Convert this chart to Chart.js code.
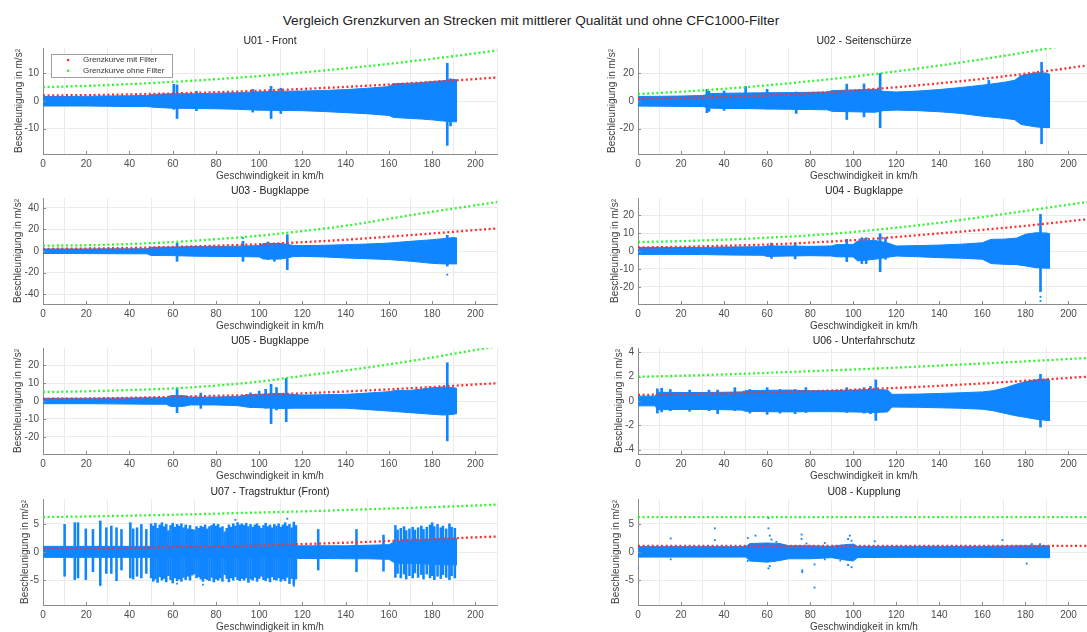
<!DOCTYPE html>
<html>
<head>
<meta charset="utf-8">
<script src="https://cdn.jsdelivr.net/npm/chart.js@4.4.1/dist/chart.umd.min.js"></script>
<style>
  html, body { margin:0; padding:0; background:#fff; width:1087px; height:632px; overflow:hidden; position:relative;
    font-family:"Liberation Sans", Arial, Helvetica, sans-serif; }
  #figTitle { position:absolute; left:0; width:1062px; top:13px; line-height:15px; text-align:center;
    font-size:13.6px; color:#222; white-space:nowrap; }
  .panel { position:absolute; }
  .panel canvas { display:block; }
</style>
</head>
<body>
<div id="figTitle">Vergleich Grenzkurven an Strecken mit mittlerer Qualität und ohne CFC1000-Filter</div>
<script>
// ---- limit curves (km/h -> m/s²) ----
const curveX = [0, 20, 40, 60, 80, 100, 120, 140, 160, 180, 200, 210];

const u01Red   = [2.0, 2.14, 2.38, 2.72, 3.16, 3.70, 4.34, 5.09, 5.93, 6.88, 7.92, 8.48];
const u01Green = [5.0, 5.46, 6.09, 6.89, 7.86, 8.99, 10.29, 11.76, 13.39, 15.19, 17.16, 18.21];
const u02Red   = [2.0, 2.25, 2.94, 4.06, 5.6, 7.57, 9.97, 12.8, 16.06, 19.75, 23.86, 26.08];
const u02Green = [5.0, 6.72, 8.84, 11.39, 14.35, 17.71, 21.49, 25.67, 30.28, 35.3, 40.7, 43.6];
const u03Red   = [2.0, 2.3, 2.9, 3.8, 4.9, 6.3, 8.2, 10.5, 13.3, 16.3, 19.5, 21.0];
const u03Green = [5.0, 5.4, 6.5, 8.3, 11.0, 14.2, 18.5, 23.5, 30.0, 36.5, 42.5, 45.6];
const u04Red   = [2.0, 2.3, 2.9, 3.6, 4.7, 6.0, 7.8, 9.8, 11.8, 14.0, 16.6, 17.8];
const u04Green = [5.0, 5.5, 6.3, 7.4, 8.7, 10.6, 13.0, 15.7, 18.9, 22.3, 25.8, 27.4];
const u05Red   = [1.2, 1.4, 1.8, 2.3, 2.9, 3.4, 4.3, 5.3, 6.5, 7.8, 9.2, 9.9];
const u05Green = [5.0, 5.4, 6.1, 7.0, 8.6, 10.8, 14.0, 17.0, 20.4, 24.2, 28.4, 30.4];
const u06Red   = [0.5, 0.55, 0.62, 0.7, 0.8, 0.93, 1.08, 1.25, 1.45, 1.67, 1.9, 2.02];
const u06Green = [2.0, 2.08, 2.19, 2.32, 2.46, 2.6, 2.75, 2.92, 3.09, 3.27, 3.46, 3.55];
const u07Red   = [0.55, 0.6, 0.7, 0.85, 1.0, 1.15, 1.4, 1.65, 1.95, 2.25, 2.6, 2.75];
const u07Green = [6.2, 6.3, 6.45, 6.6, 6.8, 7.0, 7.2, 7.45, 7.7, 7.95, 8.25, 8.4];
const u08Red   = [1.1, 1.1, 1.1, 1.1, 1.1, 1.1, 1.1, 1.1, 1.1, 1.1, 1.1, 1.1];
const u08Green = [6.2, 6.2, 6.2, 6.2, 6.2, 6.2, 6.2, 6.2, 6.2, 6.2, 6.2, 6.2];

// ---- measured acceleration: envelope of the dense band ----
const u01BandX  = [0, 10, 20, 30, 40, 48, 52, 60, 70, 80, 90, 100, 110, 120, 130, 140, 150, 160, 162, 170, 175, 180, 185, 190, 191.5];
const u01BandHi = [1.6, 1.6, 1.7, 1.8, 1.9, 2.0, 2.4, 2.6, 2.6, 2.8, 3.0, 3.3, 3.5, 3.6, 3.8, 4.1, 4.6, 5.2, 6.2, 6.4, 6.6, 7.0, 7.3, 7.8, 7.6];
const u01BandLo = [-1.8, -1.8, -1.8, -1.9, -2.0, -2.0, -2.3, -2.6, -2.7, -2.8, -3.0, -3.3, -3.4, -3.5, -3.8, -4.2, -4.6, -5.2, -5.9, -6.3, -6.5, -6.8, -7.2, -7.5, -7.5];

const u02BandX  = [0, 10, 20, 30, 34, 40, 50, 60, 70, 80, 88, 90, 100, 110, 114, 120, 130, 140, 150, 160, 170, 175, 178, 185, 190, 191.5];
const u02BandHi = [3.3, 3.4, 3.6, 4.0, 5.4, 5.6, 5.8, 6.0, 6.1, 6.3, 6.5, 7.5, 8.0, 8.5, 7.0, 6.5, 7.2, 8.3, 9.8, 11.5, 13.5, 15.0, 18.5, 20.5, 20.2, 19];
const u02BandLo = [-3.7, -3.8, -3.9, -4.0, -5.2, -5.4, -5.5, -5.8, -6.0, -6.2, -6.4, -7.5, -7.8, -8.2, -7.0, -6.6, -7.0, -7.8, -9.0, -11, -12.5, -13.5, -17, -18.8, -19.3, -19];

const u03BandX  = [0, 10, 20, 30, 40, 48, 50, 60, 70, 80, 90, 100, 102, 110, 116, 120, 130, 140, 150, 160, 170, 180, 185, 190, 191.5];
const u03BandHi = [1.9, 1.9, 1.9, 2.0, 2.1, 2.1, 3.4, 3.7, 4.2, 4.3, 4.5, 5.0, 7.0, 7.0, 5.2, 5.0, 5.3, 5.9, 6.5, 7.4, 9.0, 10.5, 11.5, 12.5, 12];
const u03BandLo = [-2.3, -2.3, -2.4, -2.5, -2.6, -2.6, -4.2, -4.3, -4.8, -5.0, -5.2, -5.5, -7.5, -7.5, -5.2, -5.0, -5.5, -6.5, -7.2, -8.0, -9.5, -11.5, -12, -12, -12];

const u04BandX  = [0, 10, 20, 30, 40, 50, 58, 60, 70, 80, 90, 92, 100, 102, 110, 116, 120, 130, 140, 150, 160, 164, 170, 176, 180, 185, 190, 191.5];
const u04BandHi = [1.9, 1.9, 1.9, 2.0, 2.2, 2.3, 2.4, 2.8, 2.8, 2.6, 2.8, 3.5, 3.7, 5.5, 5.9, 4.5, 2.8, 3.0, 3.3, 3.8, 4.6, 6.5, 6.6, 7.2, 9.3, 10.2, 10, 9.5];
const u04BandLo = [-1.9, -1.9, -1.9, -2.0, -2.2, -2.3, -2.4, -3.0, -2.8, -2.6, -2.8, -3.2, -3.3, -5.5, -4.6, -3.5, -2.8, -3.2, -3.7, -4.0, -4.6, -7.0, -7.4, -7.6, -8.3, -9.3, -9.6, -9.5];

const u05BandX  = [0, 10, 20, 30, 40, 50, 57, 59, 65, 68, 80, 90, 95, 100, 110, 116, 120, 130, 140, 150, 160, 163, 170, 180, 185, 190, 191.5];
const u05BandHi = [1.5, 1.5, 1.5, 1.6, 1.7, 1.8, 1.8, 3.0, 3.0, 2.2, 2.2, 2.5, 3.5, 3.7, 4.2, 3.6, 3.3, 3.5, 3.7, 4.4, 5.2, 5.9, 5.9, 7.4, 7.8, 7.4, 7.0];
const u05BandLo = [-1.5, -1.5, -1.5, -1.6, -1.7, -1.8, -1.8, -3.0, -3.0, -2.2, -2.2, -2.6, -3.5, -3.7, -4.2, -4.0, -4.0, -4.0, -4.0, -4.8, -5.6, -5.9, -6.5, -7.4, -7.8, -7.4, -7.0];

const u06BandX  = [0, 8, 9, 20, 30, 40, 48, 50, 60, 70, 80, 90, 100, 110, 116, 118, 130, 140, 150, 160, 165, 170, 175, 180, 185, 190, 191.5];
const u06BandHi = [0.40, 0.40, 0.72, 0.70, 0.70, 0.72, 0.75, 0.85, 0.88, 0.9, 0.85, 0.85, 0.9, 0.95, 0.9, 0.55, 0.57, 0.62, 0.68, 0.75, 0.85, 1.05, 1.35, 1.6, 1.75, 1.8, 1.7];
const u06BandLo = [-0.40, -0.40, -0.72, -0.70, -0.70, -0.72, -0.75, -0.85, -0.88, -0.9, -0.88, -0.88, -0.9, -0.95, -0.9, -0.5, -0.52, -0.56, -0.6, -0.68, -0.8, -1.0, -1.2, -1.35, -1.5, -1.6, -1.6];

const u07BandX  = [0, 10, 20, 40, 60, 80, 100, 117, 118, 130, 140, 150, 160, 163, 170, 180, 190, 191.5];
const u07BandHi = [1.0, 1.0, 1.0, 1.0, 1.0, 1.0, 1.0, 1.0, 1.1, 1.1, 1.1, 1.2, 1.3, 1.9, 2.0, 2.3, 2.4, 2.3];
const u07BandLo = [-0.95, -0.95, -0.95, -0.95, -0.95, -0.95, -0.95, -0.95, -1.15, -1.15, -1.2, -1.2, -1.3, -2.0, -2.0, -2.2, -2.3, -2.3];

const u08BandX  = [0, 10, 30, 50, 52, 60, 66, 70, 80, 90, 96, 100, 102, 120, 140, 160, 180, 190, 191.5];
const u08BandHi = [0.95, 0.95, 0.95, 0.95, 1.5, 1.6, 1.5, 1.1, 1.1, 1.0, 1.3, 1.4, 1.0, 1.0, 1.0, 1.0, 1.1, 1.1, 1.0];
const u08BandLo = [-0.9, -0.9, -0.9, -0.9, -1.6, -1.8, -1.5, -1.2, -1.2, -1.0, -1.4, -1.6, -1.0, -0.95, -0.95, -0.95, -1.0, -1.0, -1.0];

// ---- individual peaks: [speed, min, max] ----
const u01Spikes = [[60.5, -3, 6], [62, -6.3, 5.8], [71, -3.5, 3.5], [97, -4, 4.2], [105.5, -6.3, 5.3], [110, -4.5, 4.6], [187, -16, 13.6], [188.5, -9, 8]];
const u02Spikes = [[32, -8.5, 8.5], [33, -7.5, 7.0], [40, -6.8, 7.3], [50, -5.5, 10.5], [60, -5.8, 8.5], [73.5, -9, 6.5], [97, -13.4, 12.2], [105, -11.5, 12.4], [112.5, -19.3, 20], [163, -11, 14.9], [187.5, -31, 28]];
const u03Spikes = [[62, -9.6, 7.4], [92.5, -9.6, 9], [104, -8, 8.4], [107, -9.6, 7], [113, -17.4, 15.2], [187, -14, 14.6]];
const u04Spikes = [[62, -4.1, 4.4], [73, -4.4, 4.4], [97, -5.9, 6.5], [104, -7, 7.4], [106, -7, 7.4], [112.5, -11.5, 9.6], [115, -4.6, 7.4], [187, -22.6, 20.4]];
const u05Spikes = [[62, -6.5, 7.4], [73, -4.1, 4.4], [96, -3.7, 4.5], [100, -3.7, 5.5], [103, -4, 6.5], [105.5, -12.6, 9.3], [108, -5, 7.5], [112.5, -11.5, 12.6], [187, -22.2, 21.3]];
const u06Spikes = [[9, -1.0, 1.0], [11, -0.9, 1.05], [15, -0.8, 0.95], [24, -0.85, 0.9], [33, -0.8, 0.9], [37, -1.05, 0.9], [45, -0.8, 1.1], [52, -1.0, 0.95], [60, -1.1, 1.1], [66, -1.0, 0.95], [73, -1.05, 0.95], [78, -0.95, 1.1], [97, -0.95, 1.1], [105, -1.0, 1.1], [108, -1.05, 1.2], [110.5, -1.6, 1.74], [187, -2.15, 2.2]];
const u07Spikes = [
  [10.0, -4.3, 4.9], [14.7, -4.9, 5.2], [16.2, -4.6, 5.2], [19.8, -4.9, 4.1], [23.1, -3.5, 4.0], [26.5, -5.8, 5.5], [29.3, -3.8, 4.3], [31.6, -3.8, 4.6],
  [34.0, -5.1, 4.3], [36.3, -3.2, 4.0], [40.4, -4.6, 5.2], [41.7, -4.8, 4.1], [43.5, -4.3, 4.3], [45.5, -4.6, 4.9], [47.8, -3.8, 4.0],
  [50, -4.6, 5.0], [51, -5.2, 4.6], [52, -4.8, 5.1], [53, -5.4, 4.2], [54, -4.4, 4.8], [55, -5.0, 5.2], [56, -4.7, 4.5], [57, -5.3, 4.9], [58, -4.2, 3.8],
  [59, -4.9, 4.7], [60, -5.5, 5.1], [61, -4.6, 4.4], [62, -5.1, 4.9], [63, -4.8, 4.6], [64, -5.2, 5.0], [65, -4.5, 4.3], [66, -4.9, 4.8], [67, -4.3, 4.1],
  [68, -5.0, 4.7], [69, -4.1, 4.0], [70, -3.9, 3.9], [71, -4.6, 4.5], [72, -4.4, 4.2], [73, -4.8, 4.6], [74, -5.2, 4.4], [75, -4.7, 4.8], [76, -4.9, 4.1],
  [77, -5.1, 4.5], [78, -4.5, 4.7], [79, -5.3, 5.0], [80, -4.8, 4.6], [81, -5.0, 4.9], [82, -4.6, 4.3], [83, -5.2, 4.5], [84, -4.0, 3.6], [85, -4.7, 4.2],
  [86, -5.3, 4.8], [87, -4.6, 4.4], [88, -5.0, 5.0], [89, -4.4, 4.6], [90, -4.9, 5.2], [91, -5.1, 4.8], [92, -4.7, 5.0], [93, -5.0, 4.7], [94, -4.6, 5.1],
  [95, -5.4, 4.5], [96, -4.8, 4.9], [97, -5.0, 4.4], [98, -4.5, 4.8], [99, -5.2, 5.0], [100, -4.7, 4.6], [101, -4.3, 4.2], [102, -4.9, 4.7], [103, -5.1, 5.1],
  [104, -4.6, 4.5], [105, -5.3, 4.8], [106, -4.4, 4.3], [107, -4.9, 4.9], [108, -5.0, 4.6], [109, -4.6, 5.0], [110, -5.2, 4.4], [111, -4.8, 4.8], [112, -5.1, 5.2],
  [113, -4.5, 4.6], [114, -5.6, 4.9], [115, -4.7, 4.3], [116, -5.8, 5.3], [117, -4.8, 4.7],
  [127.3, -3.2, 4.0], [145, -3.5, 4.0], [157.5, -3.4, 3.0],
  [163, -4.5, 4.7], [164, -3.8, 3.9], [165.5, -4.6, 4.2], [167, -3.9, 4.5], [168, -4.8, 3.8], [169.5, -4.2, 4.1], [171, -4.6, 4.4], [172, -3.7, 3.9],
  [173.5, -4.5, 4.3], [175, -4.0, 4.6], [176, -4.8, 4.0], [177.5, -3.9, 4.4], [179, -4.6, 4.8], [180, -4.2, 5.2], [181, -4.9, 4.5], [182.5, -4.3, 4.9],
  [184, -4.7, 4.3], [185, -4.0, 4.6], [186.5, -4.5, 4.1], [188, -4.9, 5.0], [189, -4.2, 4.4], [190.5, -4.6, 4.2]
];
const u08Spikes = [];

// ---- isolated samples: [speed, value] ----
const u03Dots = [[92.5, 12], [187, -22]];
const u04Dots = [[187, -25.5], [187, -27.8]];
const u07Dots = [[89, 5.7], [113, 5.9], [116, -6.0], [62, -5.6], [74, -5.8], [26.5, -5.9]];
const u08Dots = [[0, -2.83], [15.2, 2.4], [15.2, -1.3], [35.7, 4.2], [35.7, 2.1], [51, 2.5], [51, -1.6], [54.6, 2.9], [60.6, 6.0], [60.6, 4.2],
  [61.2, 2.9], [62, 2.2], [61.2, -2.5], [60.6, -2.9], [64.3, 1.8], [63.5, -1.6], [76, 3.1], [76, 2.3], [76.3, -3.25], [76.3, -3.55], [78.3, 1.5],
  [82, -2.2], [82, -6.3], [86.8, 1.6], [86.8, -1.3], [94, -1.5], [98.4, 2.9], [97.6, 2.3], [99.2, 2.0], [97.6, -2.3], [99.2, -2.7], [110, 1.9],
  [169.3, 2.1], [180.6, -2.05], [183, 1.4], [186.8, 1.4]];

const panelTitles = ['U01 - Front', 'U02 - Seitenschürze', 'U03 - Bugklappe', 'U04 - Bugklappe',
                     'U05 - Bugklappe', 'U06 - Unterfahrschutz', 'U07 - Tragstruktur (Front)', 'U08 - Kupplung'];
const yLimits = [19.1, 38.4, 49.3, 29.5, 29.5, 4.37, 9.4, 9.4];
const yTickSteps = [10, 20, 20, 10, 10, 2, 5, 5];
const legendLabels = ['Grenzkurve mit Filter', 'Grenzkurve ohne Filter'];
const xLabel = 'Geschwindigkeit in km/h';
const yLabel = 'Beschleunigung in m/s²';

// ---- styling / layout ----
const FONT = '"Liberation Sans", Arial, Helvetica, sans-serif';
const BLUE = '#0f85ff';
const RED = '#ff2e2e';
const GREEN = '#2ef52e';
const TICK = '#4d4d4d';
const LABEL = '#3c3c3c';
const AXIS = '#8c8c8c';
const GRID = '#ebebeb';

const ROW_TOP = [48, 198, 348, 499];
const ROW_BOTTOM = [154, 304, 454, 605];
const COL_X = [0, 590];          // canvas left
const AREA_LEFT = [43, 48];      // chart area left inside canvas
const AREA_W = [454, 452];       // 0..210 km/h
const Y_TITLE_X = [19, 612.7, 18.3, 615, 18.3, 619.3, 25, 616.7];

const panelTitlePlugin = {
  id: 'panelTitle',
  afterDraw(chart, args, opts) {
    const { ctx, chartArea: a } = chart;
    ctx.save();
    ctx.font = '10.5px ' + FONT;
    ctx.fillStyle = '#222';
    ctx.textAlign = 'center';
    ctx.textBaseline = 'middle';
    ctx.fillText(opts.text, (a.left + a.right) / 2, a.top - 7);
    ctx.restore();
  }
};

// short inward tick marks along the bottom and left axes
const innerTicksPlugin = {
  id: 'innerTicks',
  afterDatasetsDraw(chart) {
    const { ctx, chartArea: a, scales } = chart;
    ctx.save();
    ctx.strokeStyle = AXIS;
    ctx.lineWidth = 1;
    ctx.beginPath();
    scales.x.ticks.forEach(t => {
      const px = Math.round(scales.x.getPixelForValue(t.value)) + 0.5;
      ctx.moveTo(px, a.bottom); ctx.lineTo(px, a.bottom - 3);
    });
    scales.y.ticks.forEach(t => {
      const py = Math.round(scales.y.getPixelForValue(t.value)) + 0.5;
      ctx.moveTo(a.left, py); ctx.lineTo(a.left + 3, py);
    });
    ctx.stroke();
    ctx.restore();
  }
};

const boxLegendPlugin = {
  id: 'boxLegend',
  afterDraw(chart, args, opts) {
    if (!opts.show) return;
    const { ctx, chartArea: a } = chart;
    const x0 = a.left + 8, y0 = a.top + 6, w = 121, h = 23;
    ctx.save();
    ctx.fillStyle = '#fff';
    ctx.fillRect(x0, y0, w, h);
    ctx.strokeStyle = '#a0a0a0';
    ctx.lineWidth = 1;
    ctx.strokeRect(x0 + 0.5, y0 + 0.5, w, h);
    const colors = [RED, GREEN];
    ctx.font = '8px ' + FONT;
    ctx.textBaseline = 'middle';
    ctx.textAlign = 'left';
    [6, 16.7].forEach((dy, i) => {
      ctx.fillStyle = colors[i];
      ctx.fillRect(x0 + 16, y0 + dy - 1, 2.2, 2.2);
      ctx.fillStyle = '#333';
      ctx.fillText(legendLabels[i], x0 + 32, y0 + dy);
    });
    ctx.restore();
  }
};

const panels = [
  { red: u01Red, green: u01Green, bx: u01BandX, bh: u01BandHi, bl: u01BandLo, spikes: u01Spikes, dots: [], legend: true },
  { red: u02Red, green: u02Green, bx: u02BandX, bh: u02BandHi, bl: u02BandLo, spikes: u02Spikes, dots: [] },
  { red: u03Red, green: u03Green, bx: u03BandX, bh: u03BandHi, bl: u03BandLo, spikes: u03Spikes, dots: u03Dots },
  { red: u04Red, green: u04Green, bx: u04BandX, bh: u04BandHi, bl: u04BandLo, spikes: u04Spikes, dots: u04Dots },
  { red: u05Red, green: u05Green, bx: u05BandX, bh: u05BandHi, bl: u05BandLo, spikes: u05Spikes, dots: [] },
  { red: u06Red, green: u06Green, bx: u06BandX, bh: u06BandHi, bl: u06BandLo, spikes: u06Spikes, dots: [] },
  { red: u07Red, green: u07Green, bx: u07BandX, bh: u07BandHi, bl: u07BandLo, spikes: u07Spikes, dots: u07Dots, barW: 1.9 },
  { red: u08Red, green: u08Green, bx: u08BandX, bh: u08BandHi, bl: u08BandLo, spikes: u08Spikes, dots: u08Dots }
];

function xy(xs, ys) { return xs.map((x, i) => ({ x: x, y: ys[i] })); }

panels.forEach((p, idx) => {
  const col = idx % 2, row = Math.floor(idx / 2);
  const padTop = 28, axisH = 30, padBottom = 2;
  const areaLeft = AREA_LEFT[col], areaW = AREA_W[col];
  const W = areaLeft + areaW + 14;
  const H = padTop + (ROW_BOTTOM[row] - ROW_TOP[row]) + axisH + padBottom;
  const padLeft = Y_TITLE_X[idx] - COL_X[col] - 6;
  const yAxisW = areaLeft - padLeft;

  const div = document.createElement('div');
  div.className = 'panel';
  div.style.left = COL_X[col] + 'px';
  div.style.top = (ROW_TOP[row] - padTop) + 'px';
  const cv = document.createElement('canvas');
  cv.width = W; cv.height = H;
  cv.style.width = W + 'px'; cv.style.height = H + 'px';
  div.appendChild(cv);
  document.body.appendChild(div);

  const datasets = [
    { type: 'line', label: legendLabels[0], data: xy(curveX, p.red), borderColor: RED, borderWidth: 2.3,
      borderDash: [2, 2.6], borderCapStyle: 'butt', pointRadius: 0, fill: false, cubicInterpolationMode: 'monotone' },
    { type: 'line', label: legendLabels[1], data: xy(curveX, p.green), borderColor: GREEN, borderWidth: 2.3,
      borderDash: [2, 2.6], borderCapStyle: 'butt', pointRadius: 0, fill: false, cubicInterpolationMode: 'monotone' },
    { type: 'line', label: 'Einzelwerte', data: p.dots.map(d => ({ x: d[0], y: d[1] })), showLine: false,
      pointStyle: 'rect', pointRadius: 1.3, backgroundColor: BLUE, borderColor: BLUE, borderWidth: 0 },
    { type: 'bar', label: 'Spitzen', data: p.spikes.map(s => ({ x: s[0], y: [s[1], s[2]] })),
      backgroundColor: BLUE, borderWidth: 0, barThickness: p.barW || 2 },
    { type: 'line', label: 'Messwerte max', data: xy(p.bx, p.bh), borderColor: BLUE, backgroundColor: BLUE,
      borderWidth: 1, pointRadius: 0, fill: '+1' },
    { type: 'line', label: 'Messwerte min', data: xy(p.bx, p.bl), borderColor: BLUE, backgroundColor: BLUE,
      borderWidth: 1, pointRadius: 0, fill: false }
  ];

  new Chart(cv, {
    type: 'line',
    data: { datasets: datasets },
    options: {
      responsive: false,
      animation: false,
      events: [],
      layout: { padding: { left: padLeft, right: W - areaLeft - areaW, top: padTop, bottom: padBottom } },
      plugins: {
        legend: { display: false },
        tooltip: { enabled: false },
        panelTitle: { text: panelTitles[idx] },
        boxLegend: { show: !!p.legend }
      },
      scales: {
        x: {
          type: 'linear', min: 0, max: 210, offset: false,
          ticks: { stepSize: 20, includeBounds: false, autoSkip: false, maxRotation: 0, padding: 4,
                   color: TICK, font: { size: 10, family: FONT } },
          grid: { color: GRID, drawTicks: false, lineWidth: 1 },
          border: { display: true, color: AXIS, width: 1 },
          title: { display: true, text: xLabel, color: LABEL, font: { size: 10, family: FONT },
                   padding: { top: 0, bottom: 1.3 } },
          afterFit(s) { s.height = axisH; }
        },
        y: {
          type: 'linear', min: -yLimits[idx], max: yLimits[idx],
          ticks: { stepSize: yTickSteps[idx], includeBounds: false, padding: 4,
                   color: TICK, font: { size: 10, family: FONT } },
          grid: { color: GRID, drawTicks: false, lineWidth: 1 },
          border: { display: true, color: AXIS, width: 1 },
          title: { display: true, text: yLabel, color: LABEL, font: { size: 10, family: FONT },
                   padding: { top: 0, bottom: 0 } },
          afterFit(s) { s.width = yAxisW; }
        }
      }
    },
    plugins: [panelTitlePlugin, innerTicksPlugin, boxLegendPlugin]
  });
});
</script>
</body>
</html>
